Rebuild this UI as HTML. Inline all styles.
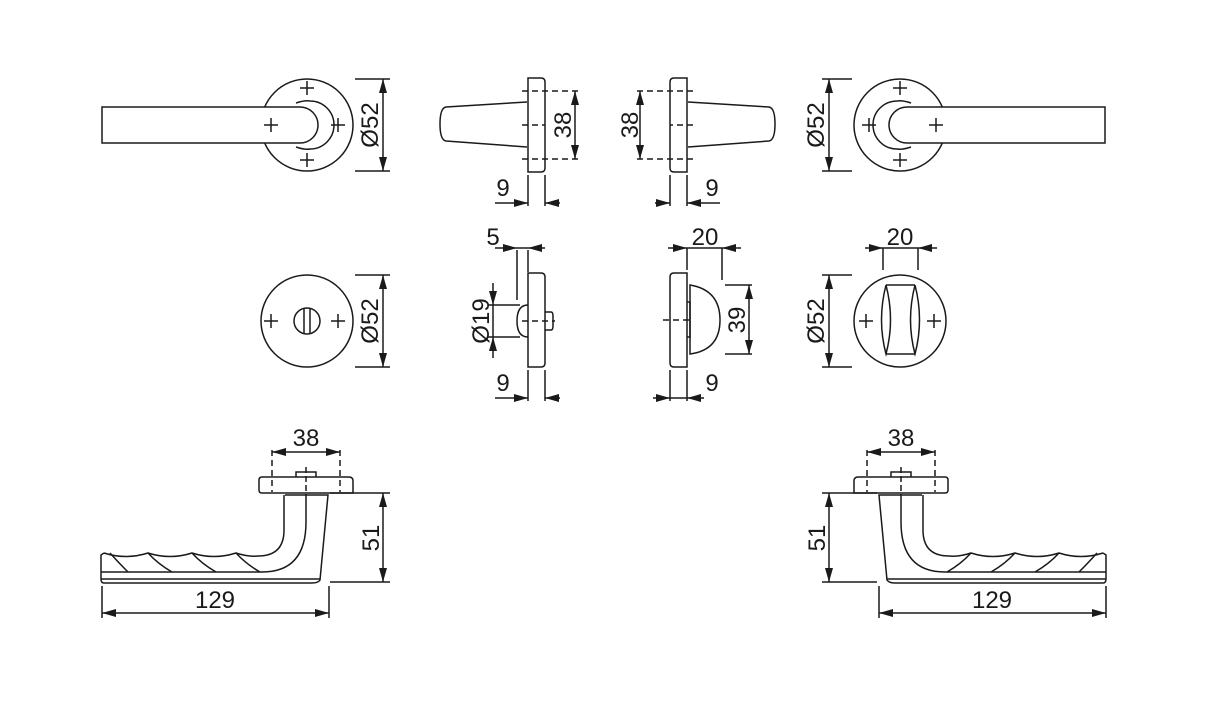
<!DOCTYPE html>
<html><head><meta charset="utf-8"><style>
html,body{margin:0;padding:0;background:#fff;}
svg{display:block;}
text{font-family:"Liberation Sans",Arial,sans-serif;font-size:24px;fill:#1a1a1a;}
</style></head><body>
<svg width="1213" height="712" viewBox="0 0 1213 712" xmlns="http://www.w3.org/2000/svg">
<defs>
<marker id="a" viewBox="0 0 14 8" refX="14" refY="4" markerWidth="14" markerHeight="8" markerUnits="userSpaceOnUse" orient="auto-start-reverse"><path d="M0,0 L14,4 L0,8 Z" fill="#1a1a1a"/></marker>
<g id="cross"><path d="M-7,0 H7 M0,-7 V7" stroke="#1a1a1a" stroke-width="1.5"/></g>
<g id="leverTop">
<circle cx="307" cy="125" r="46"/>
<path d="M102,107 H300 A18,18 0 0 1 300,143 H102 Z" fill="#fff"/>
<path d="M296,103 Q305,100 310,101 A24,24 0 0 1 310,149 Q305,150 296,147"/>
<use href="#cross" x="307" y="88"/><use href="#cross" x="271" y="125"/><use href="#cross" x="338" y="125"/><use href="#cross" x="307" y="160"/>
</g>
<g id="sideTop">
<path d="M528,78 H541 Q545,78 545,82 V168 Q545,172 541,172 H528 Z"/>
<path d="M527,102 L446,107 Q440,108 440,124 Q440,140 446,141 L527,147"/>
<path d="M522,91 H578 M522,125 H545 M522,159 H578" stroke-dasharray="6,4"/>
<path d="M528,175 V206 M545,175 V206"/>
<path d="M495,203 H528" marker-end="url(#a)"/><path d="M560,203 H545" marker-end="url(#a)"/>
</g>
<g id="leverBot">
<path d="M262,477 H349 Q353,477 353,481 V493 H262 Q259,493 259,490 V480 Q259,477 262,477 Z"/>
<path d="M296,477 V472 H316 V477"/>
<path d="M306,467 V495" stroke-dasharray="6,3"/>
<path d="M272,450 V492 M340,450 V492" stroke-dasharray="6,4"/>
<path d="M285,495 H328 L320,580 Q318,583 312,583 H104 Q101,583 101,579 V555 L104,553"/>
<path d="M284,495 V530 Q284,556 258,556"/>
<path d="M306,495 V522 Q306,572 262,572"/>
<path d="M101,572 H262 M101,579 H320"/>
<path d="M104,553 Q126,560 148,553 Q170,560 192,553 Q214,560 236,553 Q248,557 258,556"/>
<path d="M110,553 Q118,562 128,572 M148,553 Q158,564 172,572 M192,553 Q202,564 216,572 M236,553 Q246,564 260,572"/>
</g>
</defs>

<g fill="none" stroke="#1a1a1a" stroke-width="1.5">
<use href="#leverTop"/>
<use href="#leverTop" transform="translate(1207,0) scale(-1,1)"/>
<use href="#sideTop"/>
<use href="#sideTop" transform="translate(1215,0) scale(-1,1)"/>
<use href="#leverBot"/>
<use href="#leverBot" transform="translate(1207,0) scale(-1,1)"/>

<path d="M355,79 H390 M355,171 H390"/><path d="M383,79 V171" marker-start="url(#a)" marker-end="url(#a)"/>
<path d="M822,79 H852 M822,171 H852"/><path d="M829,79 V171" marker-start="url(#a)" marker-end="url(#a)"/>
<path d="M575,91 V159" marker-start="url(#a)" marker-end="url(#a)"/>
<path d="M640,91 V159" marker-start="url(#a)" marker-end="url(#a)"/>

<circle cx="307" cy="321" r="46"/>
<circle cx="307" cy="321" r="13"/>
<path d="M304,309 V333 M310,309 V333"/>
<use href="#cross" x="271" y="321"/><use href="#cross" x="338" y="321"/>
<path d="M355,275 H390 M355,367 H390"/><path d="M383,275 V367" marker-start="url(#a)" marker-end="url(#a)"/>

<path d="M528,273 H541 Q545,273 545,277 V363 Q545,367 541,367 H528 Z"/>
<path d="M528,305 Q517,305 517,321 Q517,337 528,337"/>
<path d="M545,312 H551 Q553,312 553,316 V326 Q553,330 551,330 H545"/>
<path d="M522,321 H555" stroke-dasharray="6,4"/>
<path d="M517,250 V300 M528,250 V272"/>
<path d="M495,248 H517" marker-end="url(#a)"/><path d="M545,248 H528" marker-end="url(#a)"/><path d="M517,248 H528"/>
<path d="M488,305 H520 M488,337 H520"/>
<path d="M493,283 V305" marker-end="url(#a)"/><path d="M493,358 V337" marker-end="url(#a)"/><path d="M493,305 V337"/>
<path d="M528,370 V401 M545,370 V401"/>
<path d="M495,398 H528" marker-end="url(#a)"/><path d="M560,398 H545" marker-end="url(#a)"/>

<path d="M674,273 H687 V367 H674 Q670,367 670,363 V277 Q670,273 674,273 Z"/>
<path d="M690,285 Q720,290 720,320 Q720,350 690,354 Z"/>
<path d="M687,302 H690 V337 H687"/>
<path d="M663,320 H690" stroke-dasharray="6,4"/>
<path d="M687,248 V270 M722,248 V280"/>
<path d="M668,248 H687" marker-end="url(#a)"/><path d="M741,248 H722" marker-end="url(#a)"/><path d="M687,248 H722"/>
<path d="M725,285 H752 M725,354 H752"/><path d="M749,285 V354" marker-start="url(#a)" marker-end="url(#a)"/>
<path d="M670,370 V401 M687,370 V401"/>
<path d="M653,398 H670" marker-end="url(#a)"/><path d="M704,398 H687" marker-end="url(#a)"/><path d="M670,398 H687"/>

<circle cx="900" cy="321" r="46"/>
<use href="#cross" x="866" y="321"/><use href="#cross" x="934" y="321"/>
<path d="M886,285 H915 M886,354 H915"/>
<path d="M886,285 Q877,320 886,354 Q895,320 886,285 Z"/>
<path d="M915,285 Q906,320 915,354 Q924,320 915,285"/>
<path d="M883,248 V270 M918,248 V270"/>
<path d="M865,248 H883" marker-end="url(#a)"/><path d="M937,248 H918" marker-end="url(#a)"/><path d="M883,248 H918"/>
<path d="M822,275 H852 M822,367 H852"/><path d="M829,275 V367" marker-start="url(#a)" marker-end="url(#a)"/>

<path d="M272,452 H340" marker-start="url(#a)" marker-end="url(#a)"/>
<path d="M867,452 H935" marker-start="url(#a)" marker-end="url(#a)"/>
<path d="M330,493 H390 M330,582 H390"/><path d="M383,493 V582" marker-start="url(#a)" marker-end="url(#a)"/>
<path d="M822,493 H877 M822,582 H877"/><path d="M829,493 V582" marker-start="url(#a)" marker-end="url(#a)"/>
<path d="M102,586 V618 M329,586 V618"/><path d="M102,613 H329" marker-start="url(#a)" marker-end="url(#a)"/>
<path d="M879,586 V618 M1106,586 V618"/><path d="M879,613 H1106" marker-start="url(#a)" marker-end="url(#a)"/>
</g>

<g>
<text transform="translate(378,125) rotate(-90)" text-anchor="middle">Ø52</text>
<text transform="translate(824,125) rotate(-90)" text-anchor="middle">Ø52</text>
<text transform="translate(571,125) rotate(-90)" text-anchor="middle">38</text>
<text transform="translate(638,125) rotate(-90)" text-anchor="middle">38</text>
<text x="503" y="196" text-anchor="middle">9</text>
<text x="712" y="196" text-anchor="middle">9</text>
<text transform="translate(378,321) rotate(-90)" text-anchor="middle">Ø52</text>
<text transform="translate(824,321) rotate(-90)" text-anchor="middle">Ø52</text>
<text transform="translate(489,321) rotate(-90)" text-anchor="middle">Ø19</text>
<text transform="translate(745,320) rotate(-90)" text-anchor="middle">39</text>
<text x="493" y="245" text-anchor="middle">5</text>
<text x="705" y="245" text-anchor="middle">20</text>
<text x="900" y="245" text-anchor="middle">20</text>
<text x="503" y="391" text-anchor="middle">9</text>
<text x="712" y="391" text-anchor="middle">9</text>
<text x="306" y="446" text-anchor="middle">38</text>
<text x="901" y="446" text-anchor="middle">38</text>
<text transform="translate(379,538) rotate(-90)" text-anchor="middle">51</text>
<text transform="translate(825,538) rotate(-90)" text-anchor="middle">51</text>
<text x="215" y="608" text-anchor="middle">129</text>
<text x="992" y="608" text-anchor="middle">129</text>
</g>
</svg>
</body></html>
